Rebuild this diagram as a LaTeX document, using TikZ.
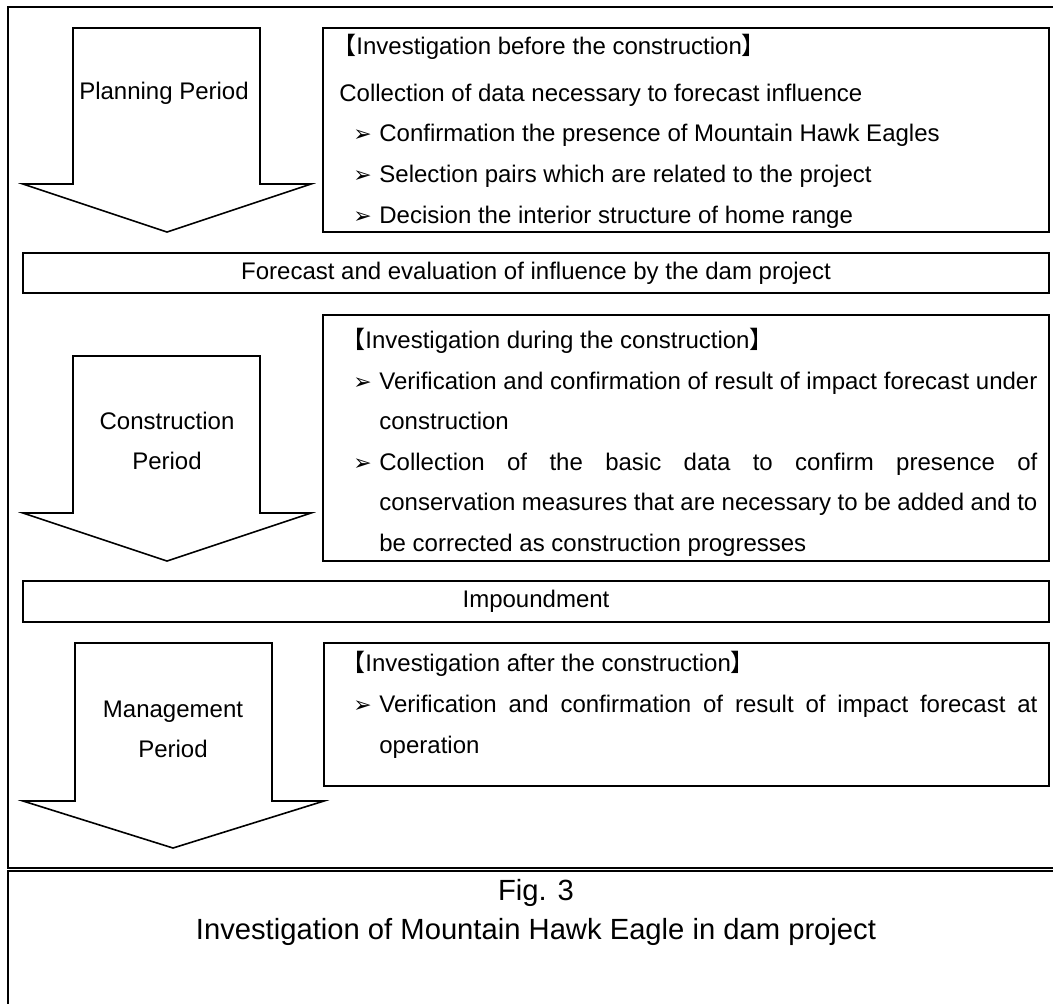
\documentclass[tikz,border=0pt]{standalone}
\usepackage{fontspec}
\setmainfont{Liberation Sans}
\newfontfamily\cjkfont{Noto Sans CJK JP}
\newfontfamily\dingfont{DejaVu Sans}
\newcommand{\lbr}{{\cjkfont 【}}
\newcommand{\rbr}{{\cjkfont 】}}
\newcommand{\pointer}{\makebox[13pt][l]{\dingfont\fontsize{11}{11}\selectfont ➢}}

\tikzset{
  frame/.style={line width=0.9pt},
  box/.style={line width=0.8pt},
  body/.style={font=\fontsize{12}{14.5}\selectfont, inner sep=0pt},
  para/.style={font=\fontsize{12}{20.3}\selectfont, inner sep=0pt, text width=342pt, align=justify, anchor=base west},
  caption/.style={font=\fontsize{14.6}{17}\selectfont, inner sep=0pt},
}

\begin{document}
\begin{tikzpicture}[x=0.5pt,y=-0.5pt]
        \useasboundingbox (0,0) rectangle (1053,1003);
        \draw[frame] (8,7) rectangle (1070,868);
        \draw[frame] (8,871) rectangle (1070,1015);
        % periods
        \draw[box] (73,28) -- (260,28) -- (260,184) -- (311,184) -- (167,232) -- (23,184) -- (73,184) -- cycle;
        \draw[box] (73,356) -- (260,356) -- (260,513) -- (311,513) -- (167,561) -- (23,513) -- (73,513) -- cycle;
        \draw[box] (75,643) -- (272,643) -- (272,801) -- (324,801) -- (173,848) -- (23,801) -- (75,801) -- cycle;
        \node[body] (plan) at (164,93) {Planning Period};
        \node[body, align=center, font=\fontsize{12}{20}\selectfont] (constr) at (167,441) {Construction\\Period};
        \node[body, align=center, font=\fontsize{12}{20}\selectfont] (manage) at (173,729) {Management\\Period};
        % bars
        \draw[box] (23,253) rectangle (1049,293);
        \draw[box] (23,581) rectangle (1049,622);
        \node[body] (forecast) at (536,273) {Forecast and evaluation of influence by the dam project};
        \node[body] (impound) at (536,601) {Impoundment};
        % investigations
        \draw[box] (323,28) rectangle (1049,232);
        \draw[box] (323,315) rectangle (1049,561);
        \draw[box] (324,643) rectangle (1049,786);
        \node[body, anchor=base west] (before) at (332,54) {\lbr Investigation before the construction\rbr};
        \node[body, anchor=base west] (data) at (339,101.5) {Collection of data necessary to forecast influence};
        \node[body, anchor=base west] (item1) at (353,141.5) {\pointer Confirmation the presence of Mountain Hawk Eagles};
        \node[body, anchor=base west] (item2) at (353,182.5) {\pointer Selection pairs which are related to the project};
        \node[body, anchor=base west] (item3) at (353,223) {\pointer Decision the interior structure of home range};
        \node[body, anchor=base west] (during) at (341,348) {\lbr Investigation during the construction\rbr};
        \node[para] (duringlist) at (353,389) {\noindent\hangindent=13pt\hangafter=1\pointer Verification and confirmation of result of impact forecast under\linebreak construction\par
          \noindent\hangindent=13pt\hangafter=1\pointer Collection of the basic data to confirm presence of\linebreak conservation measures that are necessary to be added and to\linebreak be corrected as construction progresses\par};
        \node[body, anchor=base west] (after) at (341,671.5) {\lbr Investigation after the construction\rbr};
        \node[para] (afterlist) at (353,712.5) {\noindent\hangindent=13pt\hangafter=1\pointer Verification and confirmation of result of impact forecast at\linebreak operation\par};
        % caption
        \node[caption] (fig) at (536,893) {Fig. 3};
        \node[caption] (title) at (536,932) {Investigation of Mountain Hawk Eagle in dam project};
    \end{tikzpicture}
\end{document}
